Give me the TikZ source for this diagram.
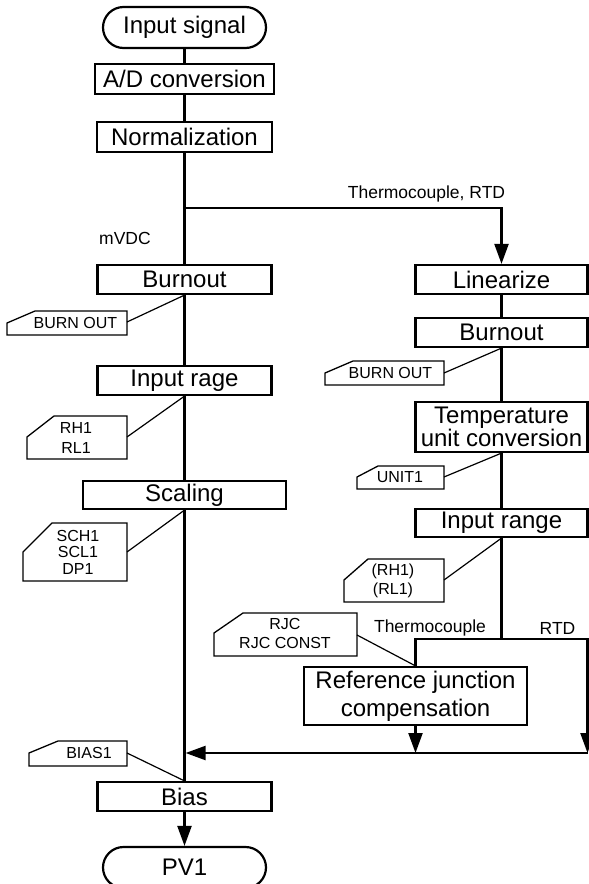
\documentclass[tikz,border=0pt]{standalone}
\usepackage{fontspec}
\setmainfont{Liberation Sans}
\usetikzlibrary{arrows.meta,calc}
\newcommand{\pfr}[6]{\draw[pframe] (#1,#4) -- (#3,#4) -- (#3,#2) -- ({#1+#5},#2) -- (#1,{#2+#6}) -- cycle;}
\tikzset{
 proc/.style={draw, line width=2.2pt, minimum width=174pt, minimum height=29pt, inner sep=0pt, font=\fontsize{24}{26}\selectfont},
 term/.style={proc, rounded corners=20.5pt, minimum width=163pt, minimum height=41pt},
 flow/.style={line width=2.2pt, line join=miter},
 arr/.style={flow, -{Triangle[length=20pt,width=14pt]}},
 pframe/.style={line width=1.3pt, line join=miter},
 ptext/.style={font=\fontsize{16}{19}\selectfont, inner sep=0pt, align=center},
 lbl/.style={font=\fontsize{17.5}{20}\selectfont, inner sep=0pt},
 pline/.style={line width=1.2pt},
}
\begin{document}
\begin{tikzpicture}[x=1pt,y=-1pt]
\clip (0,0) rectangle (589,884);
% left column
\node[term] (input) at (184.5,27.5) {Input signal};
\node[proc, minimum width=179pt, minimum height=30pt] (ad) at (184.5,79) {A/D conversion};
\node[proc, minimum width=175pt, minimum height=30pt] (norm) at (184.5,137) {Normalization};
\node[proc] (burnL) at (184.5,279.5) {Burnout};
\node[proc] (rangeL) at (184.5,380.5) {Input rage};
\node[proc, minimum width=203pt, minimum height=28pt] (scaling) at (184.5,495) {Scaling};
\node[proc] (bias) at (184.5,796.5) {Bias};
\node[term] (pv) at (184.5,867.5) {PV1};
% right column
\node[proc, minimum width=172pt] (lin) at (501.5,279.5) {Linearize};
\node[proc, minimum width=172pt] (burnR) at (501.5,332.5) {Burnout};
\node[proc, minimum width=172pt, minimum height=50pt, align=center, font=\fontsize{24}{20}\selectfont] (temp) at (501.5,427) {Temperature\\unit conversion};
\node[proc, minimum width=172pt, minimum height=28pt] (rangeR) at (501.5,523) {Input range};
\node[proc, minimum width=223pt, minimum height=58pt, align=center, font=\fontsize{24}{28}\selectfont] (rjc) at (415.5,696) {Reference junction\\compensation};
% labels
\node[lbl] (ltr) at (426.5,194) {Thermocouple, RTD};
\node[lbl] (lmv) at (125,238) {mVDC};
\node[lbl] (ltc) at (430,628) {Thermocouple};
\node[lbl] (lrtd) at (557.5,628) {RTD};
% coordinates
\coordinate (br) at (184.5,208);
\coordinate (sp) at (501.5,639);
\coordinate (tcL) at (415.5,639);
\coordinate (rtR) at (587.5,639);
\coordinate (rtB) at (587.5,753);
\coordinate (rjB) at (415.5,753);
\coordinate (mg) at (185.6,753);
% flow lines
\draw[flow] (input.south) -- (ad.north);
\draw[flow] (ad.south) -- (norm.north);
\draw[flow] (norm.south) -- (burnL.north);
\draw[arr] (br) -| (lin.north);
\draw[flow] (burnL.south) -- (rangeL.north);
\draw[flow] (rangeL.south) -- (scaling.north);
\draw[flow] (scaling.south) -- (bias.north);
\draw[arr] (bias.south) -- (pv.north);
\draw[flow] (lin.south) -- (burnR.north);
\draw[flow] (burnR.south) -- (temp.north);
\draw[flow] (temp.south) -- (rangeR.north);
\draw[flow] (rangeR.south) -- (sp);
\draw[arr] (rjc.north) -- (tcL) -- (rtR) -- (rtB);
\draw[arr] (rjc.south) -- (rjB);
\draw[arr] (rtB) -- (mg);
% parameter boxes
\pfr{7}{311}{127}{335}{28}{12}
\node[ptext] (pbL) at (75.5,323) {BURN OUT};
\coordinate (cbL) at (127,322);
\draw[pline] (cbL) -- (burnL.south);

\pfr{27}{416}{127}{459}{27}{21}
\node[ptext, font=\fontsize{16}{20}\selectfont] (prL) at (76,438) {RH1\\RL1};
\coordinate (crL) at (127,437);
\draw[pline] (crL) -- (rangeL.south);

\pfr{23}{523}{127}{581}{29}{29}
\node[ptext, font=\fontsize{16}{16.5}\selectfont] (psc) at (78,552) {SCH1\\SCL1\\DP1};
\coordinate (csc) at (127,552);
\draw[pline] (csc) -- (scaling.south);

\pfr{29}{741}{127}{766}{29}{12}
\node[ptext] (pbi) at (89,753) {BIAS1};
\coordinate (cbi) at (127,753);
\draw[pline] (cbi) -- (bias.north);

\pfr{325}{361}{444}{385}{28}{12}
\node[ptext] (pbR) at (390.5,373) {BURN OUT};
\coordinate (cbR) at (444,373);
\draw[pline] (cbR) -- (burnR.south);

\pfr{357}{466}{444}{489}{21}{11}
\node[ptext] (pun) at (400,477) {UNIT1};
\coordinate (cun) at (444,477);
\draw[pline] (cun) -- (temp.south);

\pfr{344}{559}{444}{602}{24}{21}
\node[ptext, font=\fontsize{16}{19}\selectfont] (prR) at (393,580.5) {(RH1)\\(RL1)};
\coordinate (crR) at (444,580);
\draw[pline] (crR) -- (rangeR.south);

\pfr{214}{613}{357}{656}{29}{20}
\node[ptext, font=\fontsize{16}{19}\selectfont] (prj) at (285,633.5) {RJC\\RJC CONST};
\coordinate (crj) at (357,635);
\draw[pline] (crj) -- (rjc.north);
\end{tikzpicture}
\end{document}
